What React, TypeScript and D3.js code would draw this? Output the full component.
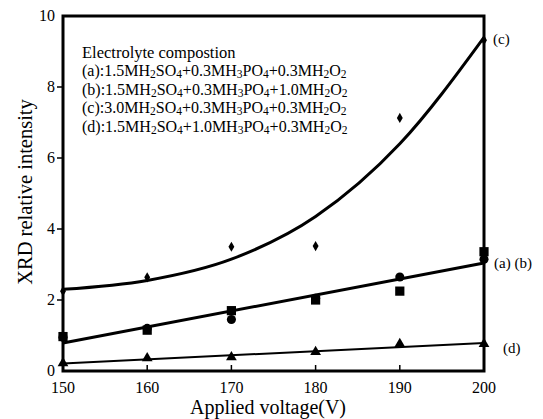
import React from "react";
import * as d3 from "d3";

const voltages = [150, 160, 170, 180, 190, 200];
const seriesA = [0.95, 1.2, 1.45, 2.05, 2.65, 3.15]; // circles
const seriesB = [0.97, 1.15, 1.7, 2.0, 2.25, 3.36]; // squares
const seriesC = [2.25, 2.64, 3.5, 3.52, 7.13, 9.32]; // diamonds
const seriesD = [0.22, 0.36, 0.39, 0.54, 0.76, 0.76]; // triangles
const fitC = [2.3, 2.55, 3.15, 4.35, 6.4, 9.4];
const fitAB = [0.79, 3.04];
const fitD = [0.21, 0.79];
const fitEnds = [150, 200];
const xTicks = [150, 160, 170, 180, 190, 200];
const yTicks = [0, 2, 4, 6, 8, 10];
const legendTitle = "Electrolyte compostion";
const legendRows = [
  ["(a):1.5", "0.3", "0.3"],
  ["(b):1.5", "0.3", "1.0"],
  ["(c):3.0", "0.3", "0.3"],
  ["(d):1.5", "1.0", "0.3"],
];

const W = 543, H = 419;
const L = 63, R = 484, T = 16, B = 371;
const font = "'Liberation Serif', 'Times New Roman', serif";

export default function App() {
  const x = d3.scaleLinear().domain([150, 200]).range([L, R]);
  const y = d3.scaleLinear().domain([0, 10]).range([B, T]);
  const curve = d3.line<number>().x((_, i) => x(voltages[i])).y((d) => y(d)).curve(d3.curveMonotoneX);
  const straight = d3.line<number>().x((_, i) => x(fitEnds[i])).y((d) => y(d));
  const diamond = d3.symbol().type(d3.symbolDiamond).size(30)()!;
  const square = d3.symbol().type(d3.symbolSquare).size(85)()!;
  const circle = d3.symbol().type(d3.symbolCircle).size(65)()!;
  const triangle = d3.symbol().type(d3.symbolTriangle).size(50)()!;

  const sub = (s: string) => (
    <tspan fontSize={11.5} dy={2}>{s}</tspan>
  );

  return (
    <svg width={W} height={H} style={{ position: "absolute", left: 0, top: 0 }} fontFamily={font}>
      <rect width={W} height={H} fill="#fff" />
      {/* ticks */}
      {xTicks.slice(1, -1).map((t) => (
        <line key={t} x1={x(t)} x2={x(t)} y1={B} y2={B - 6} stroke="#000" strokeWidth={1.5} />
      ))}
      {yTicks.slice(1, -1).map((t) => (
        <line key={t} x1={L} x2={L - 6} y1={y(t)} y2={y(t)} stroke="#000" strokeWidth={1.5} />
      ))}
      {xTicks.map((t) => (
        <text key={t} x={x(t)} y={B + 22} textAnchor="middle" fontSize={16}>{t}</text>
      ))}
      {yTicks.map((t) => (
        <text key={t} x={L - 8} y={y(t) + 5} textAnchor="end" fontSize={16}>{t}</text>
      ))}
      {/* frame */}
      <rect x={L} y={T} width={R - L} height={B - T} fill="none" stroke="#000" strokeWidth={3} />
      {/* fits */}
      <path d={curve(fitC)!} fill="none" stroke="#000" strokeWidth={3} />
      <path d={straight(fitAB)!} fill="none" stroke="#000" strokeWidth={3} />
      <path d={straight(fitD)!} fill="none" stroke="#000" strokeWidth={2} />
      {/* markers */}
      {seriesC.map((v, i) => (
        <path key={"c" + i} d={diamond} transform={`translate(${x(voltages[i])},${y(v)})`} fill="#000" />
      ))}
      {seriesB.map((v, i) => (
        <path key={"b" + i} d={square} transform={`translate(${x(voltages[i])},${y(v)})`} fill="#000" />
      ))}
      {seriesA.map((v, i) => (
        <path key={"a" + i} d={circle} transform={`translate(${x(voltages[i])},${y(v)})`} fill="#000" />
      ))}
      {seriesD.map((v, i) => (
        <path key={"d" + i} d={triangle} transform={`translate(${x(voltages[i])},${y(v)})`} fill="#000" />
      ))}
      {/* legend */}
      <text x={82} y={58} fontSize={16.5}>{legendTitle}</text>
      {legendRows.map((r, i) => (
        <text key={i} x={82} y={76 + i * 18.7} fontSize={16}>
          {r[0]}MH{sub("2")}<tspan dy={-2}>SO</tspan>{sub("4")}<tspan dy={-2}>+{r[1]}MH</tspan>{sub("3")}<tspan dy={-2}>PO</tspan>{sub("4")}<tspan dy={-2}>+{r[2]}MH</tspan>{sub("2")}<tspan dy={-2}>O</tspan>{sub("2")}
        </text>
      ))}
      {/* series labels */}
      <text x={493} y={44} fontSize={15}>(c)</text>
      <text x={494} y={268} fontSize={15}>(a) (b)</text>
      <text x={503} y={353} fontSize={15}>(d)</text>
      {/* axis titles */}
      <text x={268} y={414} textAnchor="middle" fontSize={20}>Applied voltage(V)</text>
      <text transform={`translate(32,192) rotate(-90)`} textAnchor="middle" fontSize={20.5}>XRD relative intensity</text>
    </svg>
  );
}
